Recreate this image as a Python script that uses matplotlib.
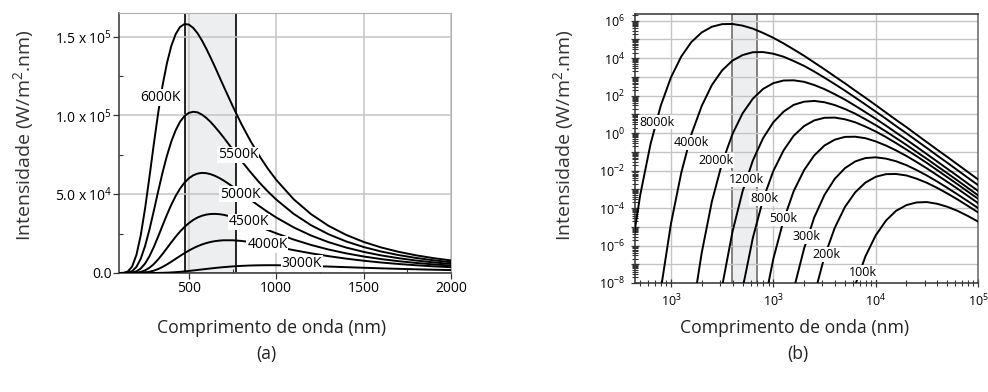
import numpy as np
import matplotlib.pyplot as plt
from matplotlib.ticker import FixedLocator, LogLocator, NullFormatter

plt.rcParams['font.family'] = ['Open Sans', 'DejaVu Sans']
plt.rcParams['mathtext.default'] = 'regular'

# (a) linear chart, intensity in W/m2.nm
wl_a = [100, 125, 150, 175, 200, 225, 250, 275, 300, 325, 350, 375, 400, 425, 450,
        475, 500, 525, 550, 575, 600, 625, 650, 675, 700, 750, 800, 850, 900, 950,
        1000, 1100, 1200, 1300, 1400, 1500, 1600, 1700, 1800, 1900, 2000]
i_6000 = [2, 90, 876, 4030, 11470, 24110, 41330, 61320, 82220, 101940, 119290, 133330,
          144200, 151670, 156140, 157980, 157630, 155520, 152080, 147550, 142300, 136600,
          130640, 124430, 118250, 106150, 94700, 84340, 74930, 66550, 59120, 46790,
          37280, 29900, 24190, 19730, 16215, 13440, 11220, 9426, 7974]
i_5500 = [0, 16, 208, 1160, 3856, 9148, 17282, 27750, 39735, 52090, 63956, 74530,
          83524, 90680, 96043, 99590, 101610, 102300, 101930, 100500, 98410, 95750,
          92670, 89350, 85870, 78540, 71280, 64380, 57860, 51970, 46620, 37520,
          30280, 24570, 20050, 16490, 13655, 11380, 9551, 8061, 6845]
i_5000 = [0, 2, 36, 260, 1040, 2862, 6072, 10718, 16611, 23284, 30260, 37080,
          43400, 48950, 53590, 57320, 60100, 61990, 63100, 63520, 63340, 62680,
          61620, 60240, 58630, 54900, 50830, 46710, 42670, 38820, 35230, 28950,
          23760, 19540, 16150, 13400, 11180, 9391, 7926, 6731, 5745]
i_4500 = [0, 0, 4, 42, 208, 691, 1688, 3350, 5709, 8707, 12143, 15806,
          19513, 23056, 26330, 29200, 31640, 33650, 35220, 36320, 37050, 37430,
          37500, 37320, 36900, 35570, 33760, 31730, 29510, 27330, 25200, 21220,
          17780, 14880, 12470, 10480, 8845, 7491, 6378, 5450, 4680]
i_4000 = [0, 0, 0, 4, 28, 116, 341, 783, 1510, 2544, 3864, 5443,
          7176, 9000, 10830, 12582, 14220, 15704, 17000, 18088, 18990, 19692,
          20210, 20562, 20760, 20756, 20350, 19640, 18730, 17730, 16660, 14500,
          12470, 10680, 9120, 7785, 6657, 5706, 4909, 4233, 3663]
i_3000 = [0, 0, 0, 0, 0, 1, 3, 10, 27, 64, 126, 223,
          358, 536, 752, 1007, 1292, 1598, 1919, 2244, 2569, 2884,
          3183, 3467, 3727, 4167, 4505, 4740, 4878, 4936, 4925, 4752,
          4447, 4083, 3695, 3317, 2960, 2635, 2342, 2080, 1848]
names_a = ['6000K', '5500K', '5000K', '4500K', '4000K', '3000K']
visible_a = (480, 768)

# (b) log chart, values are log10 of intensity (None = below the axis)
wl_b = [39.8, 50.1, 63.1, 79.4, 100, 126, 158, 200, 251, 316, 398, 501, 631, 794,
        1000, 1260, 1580, 2000, 2510, 3160, 3980, 5010, 6310, 7940, 10000, 12600,
        15800, 20000, 25100, 31600, 39800, 50100, 63100, 79400, 100000]
lg_8000 = [-6.83, -3.29, -0.59, 1.46, 2.98, 4.09, 4.86, 5.38, 5.68, 5.82, 5.83, 5.74,
           5.58, 5.35, 5.09, 4.79, 4.47, 4.13, 3.77, 3.41, 3.03, 2.66, 2.27, 1.89,
           1.50, 1.10, 0.71, 0.32, -0.08, -0.48, -0.88, -1.27, -1.67, -2.07, -2.47]
lg_4000 = [None, None, None, -8.38, -4.83, -2.12, -0.07, 1.46, 2.57, 3.35, 3.87, 4.17,
           4.32, 4.33, 4.24, 4.08, 3.85, 3.59, 3.29, 2.96, 2.62, 2.27, 1.90, 1.53,
           1.15, 0.77, 0.38, -0.01, -0.40, -0.79, -1.19, -1.58, -1.98, -2.38, -2.77]
lg_2000 = [None, None, None, None, None, None, -9.92, -6.37, -3.65, -1.59, -0.06, 1.06,
           1.84, 2.36, 2.67, 2.81, 2.82, 2.74, 2.57, 2.35, 2.08, 1.79, 1.46, 1.12,
           0.77, 0.40, 0.03, -0.35, -0.73, -1.12, -1.51, -1.90, -2.29, -2.69, -3.08]
lg_1200 = [None, None, None, None, None, None, None, None, None, -8.18, -5.29, -3.10,
           -1.46, -0.27, 0.58, 1.15, 1.51, 1.68, 1.72, 1.65, 1.50, 1.29, 1.04, 0.74,
           0.43, 0.09, -0.26, -0.63, -1.00, -1.37, -1.76, -2.14, -2.53, -2.92, -3.32]
lg_800 = [None, None, None, None, None, None, None, None, None, None, None, -8.30,
          -5.59, -3.54, -2.02, -0.92, -0.14, 0.38, 0.68, 0.82, 0.83, 0.74, 0.58, 0.35,
          0.09, -0.21, -0.53, -0.88, -1.23, -1.59, -1.97, -2.35, -2.73, -3.12, -3.50]
lg_500 = [None, None, None, None, None, None, None, None, None, None, None, None,
          None, -9.44, -6.71, -4.64, -3.10, -1.97, -1.19, -0.66, -0.35, -0.20, -0.19, -0.27,
          -0.44, -0.66, -0.92, -1.22, -1.54, -1.88, -2.24, -2.60, -2.97, -3.35, -3.73]
lg_300 = [None, None, None, None, None, None, None, None, None, None, None, None,
          None, None, None, None, -8.35, -6.15, -4.50, -3.30, -2.44, -1.87, -1.51, -1.33,
          -1.29, -1.36, -1.50, -1.71, -1.97, -2.26, -2.58, -2.92, -3.27, -3.63, -4.00]
lg_200 = [None, None, None, None, None, None, None, None, None, None, None, None,
          None, None, None, None, None, None, -8.65, -6.59, -5.06, -3.94, -3.16, -2.64,
          -2.33, -2.19, -2.18, -2.26, -2.43, -2.65, -2.92, -3.22, -3.54, -3.88, -4.23]
lg_100 = [None, None, None, None, None, None, None, None, None, None, None, None,
          None, None, None, None, None, None, None, None, None, None, -8.11, -6.58,
          -5.46, -4.67, -4.15, -3.84, -3.70, -3.68, -3.77, -3.93, -4.15, -4.42, -4.72]
names_b = ['8000k', '4000k', '2000k', '1200k', '800k', '500k', '300k', '200k', '100k']
visible_b = (395, 693)

fig = plt.figure(figsize=(9.88, 3.92), dpi=100)

# ---------- (a) ----------
axa = fig.add_axes([0.1204, 0.3036, 0.3360, 0.6633])
axa.axvspan(*visible_a, facecolor='#eceef0', edgecolor='black', lw=1.2, zorder=0.3)
for vals in [i_6000, i_5500, i_5000, i_4500, i_4000, i_3000]:
    axa.plot(wl_a, vals, color='black', lw=1.4, zorder=3)
lab_a = [(335, 111400), (781, 74900), (792, 50100), (844, 32400), (950, 18200), (1147, 6000)]
for name, (x, y) in zip(names_a, lab_a):
    axa.text(x, y, name, fontsize=10, ha='center', va='center', zorder=4,
             bbox=dict(fc='white', ec='none', pad=0.6))
axa.set_xlim(100, 2000)
axa.set_ylim(0, 165000)
axa.set_xticks([500, 1000, 1500, 2000])
axa.set_xticks([250, 750, 1250, 1750], minor=True)
axa.set_yticks([0, 50000, 100000, 150000])
axa.set_yticklabels(['0.0', '5.0 x 10$^4$', '1.0 x 10$^5$', '1.5 x 10$^5$'])
axa.set_yticks([25000, 75000, 125000], minor=True)
axa.grid(True, which='major', color='#c4c4c4', lw=1.1)
axa.set_axisbelow(True)
axa.tick_params(labelsize=10, length=4, width=0.9, pad=2, color='#333333')
axa.tick_params(axis='y', pad=1)
axa.tick_params(which='minor', length=3, width=0.8, direction='in', color='#333333')
for s in ['top', 'right']:
    axa.spines[s].set_color('#b0b0b0')
for s in ['left', 'bottom']:
    axa.spines[s].set_color('#333333')
    axa.spines[s].set_linewidth(1.1)

# ---------- (b) ----------
axb = fig.add_axes([0.6427, 0.2781, 0.3472, 0.6862])
axb.axvspan(*visible_b, facecolor='#eceef0', edgecolor='#777777', lw=1.3, zorder=0.3)
for lg in [lg_8000, lg_4000, lg_2000, lg_1200, lg_800, lg_500, lg_300, lg_200, lg_100]:
    y = np.array([np.nan if v is None else 10.0 ** v for v in lg])
    axb.plot(wl_b, y, color='black', lw=1.4, zorder=3)
lab_b = [(73, 3.9), (157, 0.33), (275, 0.036), (553, 3.5e-3), (811, 3.3e-4),
         (1245, 2.9e-5), (2089, 3.1e-6), (3273, 3.4e-7), (7530, 3.7e-8)]
for name, (x, y) in zip(names_b, lab_b):
    axb.text(x, y, name, fontsize=9, ha='center', va='center', zorder=4,
             bbox=dict(fc='white', ec='none', pad=0.6))
axb.set_xscale('log')
axb.set_yscale('log')
axb.set_xlim(44.5, 1e5)
axb.set_ylim(1e-8, 2.3e6)
axb.set_xticks([1e2, 1e3, 1e4, 1e5])
axb.set_xticklabels(['10$^3$', '10$^3$', '10$^4$', '10$^5$'])
axb.xaxis.set_minor_locator(LogLocator(base=10, subs=np.arange(2, 10), numticks=20))
axb.xaxis.set_minor_formatter(NullFormatter())
dec = [10.0 ** e for e in range(-8, 7)]
axb.yaxis.set_major_locator(FixedLocator(dec))
axb.set_yticklabels(['10$^{%d}$' % e if e % 2 == 0 else '' for e in range(-8, 7)])
axb.yaxis.set_minor_locator(LogLocator(base=10, subs=np.arange(2, 10), numticks=40))
axb.yaxis.set_minor_formatter(NullFormatter())
axb.grid(True, which='major', color='#c4c4c4', lw=1.0)
axb.set_axisbelow(True)
axb.tick_params(labelsize=9, length=6, width=0.9, direction='inout', color='#333333', pad=4)
axb.tick_params(which='minor', length=4, width=0.8, direction='inout', color='#333333')
for s in axb.spines.values():
    s.set_color('#333333')
    s.set_linewidth(1.1)
axb.spines['right'].set_color('#666666')

# axis titles
fig.text(24 / 988, 1 - 135 / 392, 'Intensidade (W/m$^2$.nm)', rotation=90,
         ha='center', va='center', fontsize=14, color='#333333')
fig.text(564 / 988, 1 - 135 / 392, 'Intensidade (W/m$^2$.nm)', rotation=90,
         ha='center', va='center', fontsize=14, color='#333333')
fig.text(271 / 988, 1 - 328 / 392, 'Comprimento de onda (nm)', ha='center', va='center',
         fontsize=12.7, color='#222222')
fig.text(794 / 988, 1 - 328 / 392, 'Comprimento de onda (nm)', ha='center', va='center',
         fontsize=12.7, color='#222222')
fig.text(266 / 988, 1 - 354 / 392, '(a)', ha='center', va='center', fontsize=12.7, color='#222222')
fig.text(798 / 988, 1 - 354 / 392, '(b)', ha='center', va='center', fontsize=12.7, color='#222222')

fig.savefig('out.png', dpi=100)
